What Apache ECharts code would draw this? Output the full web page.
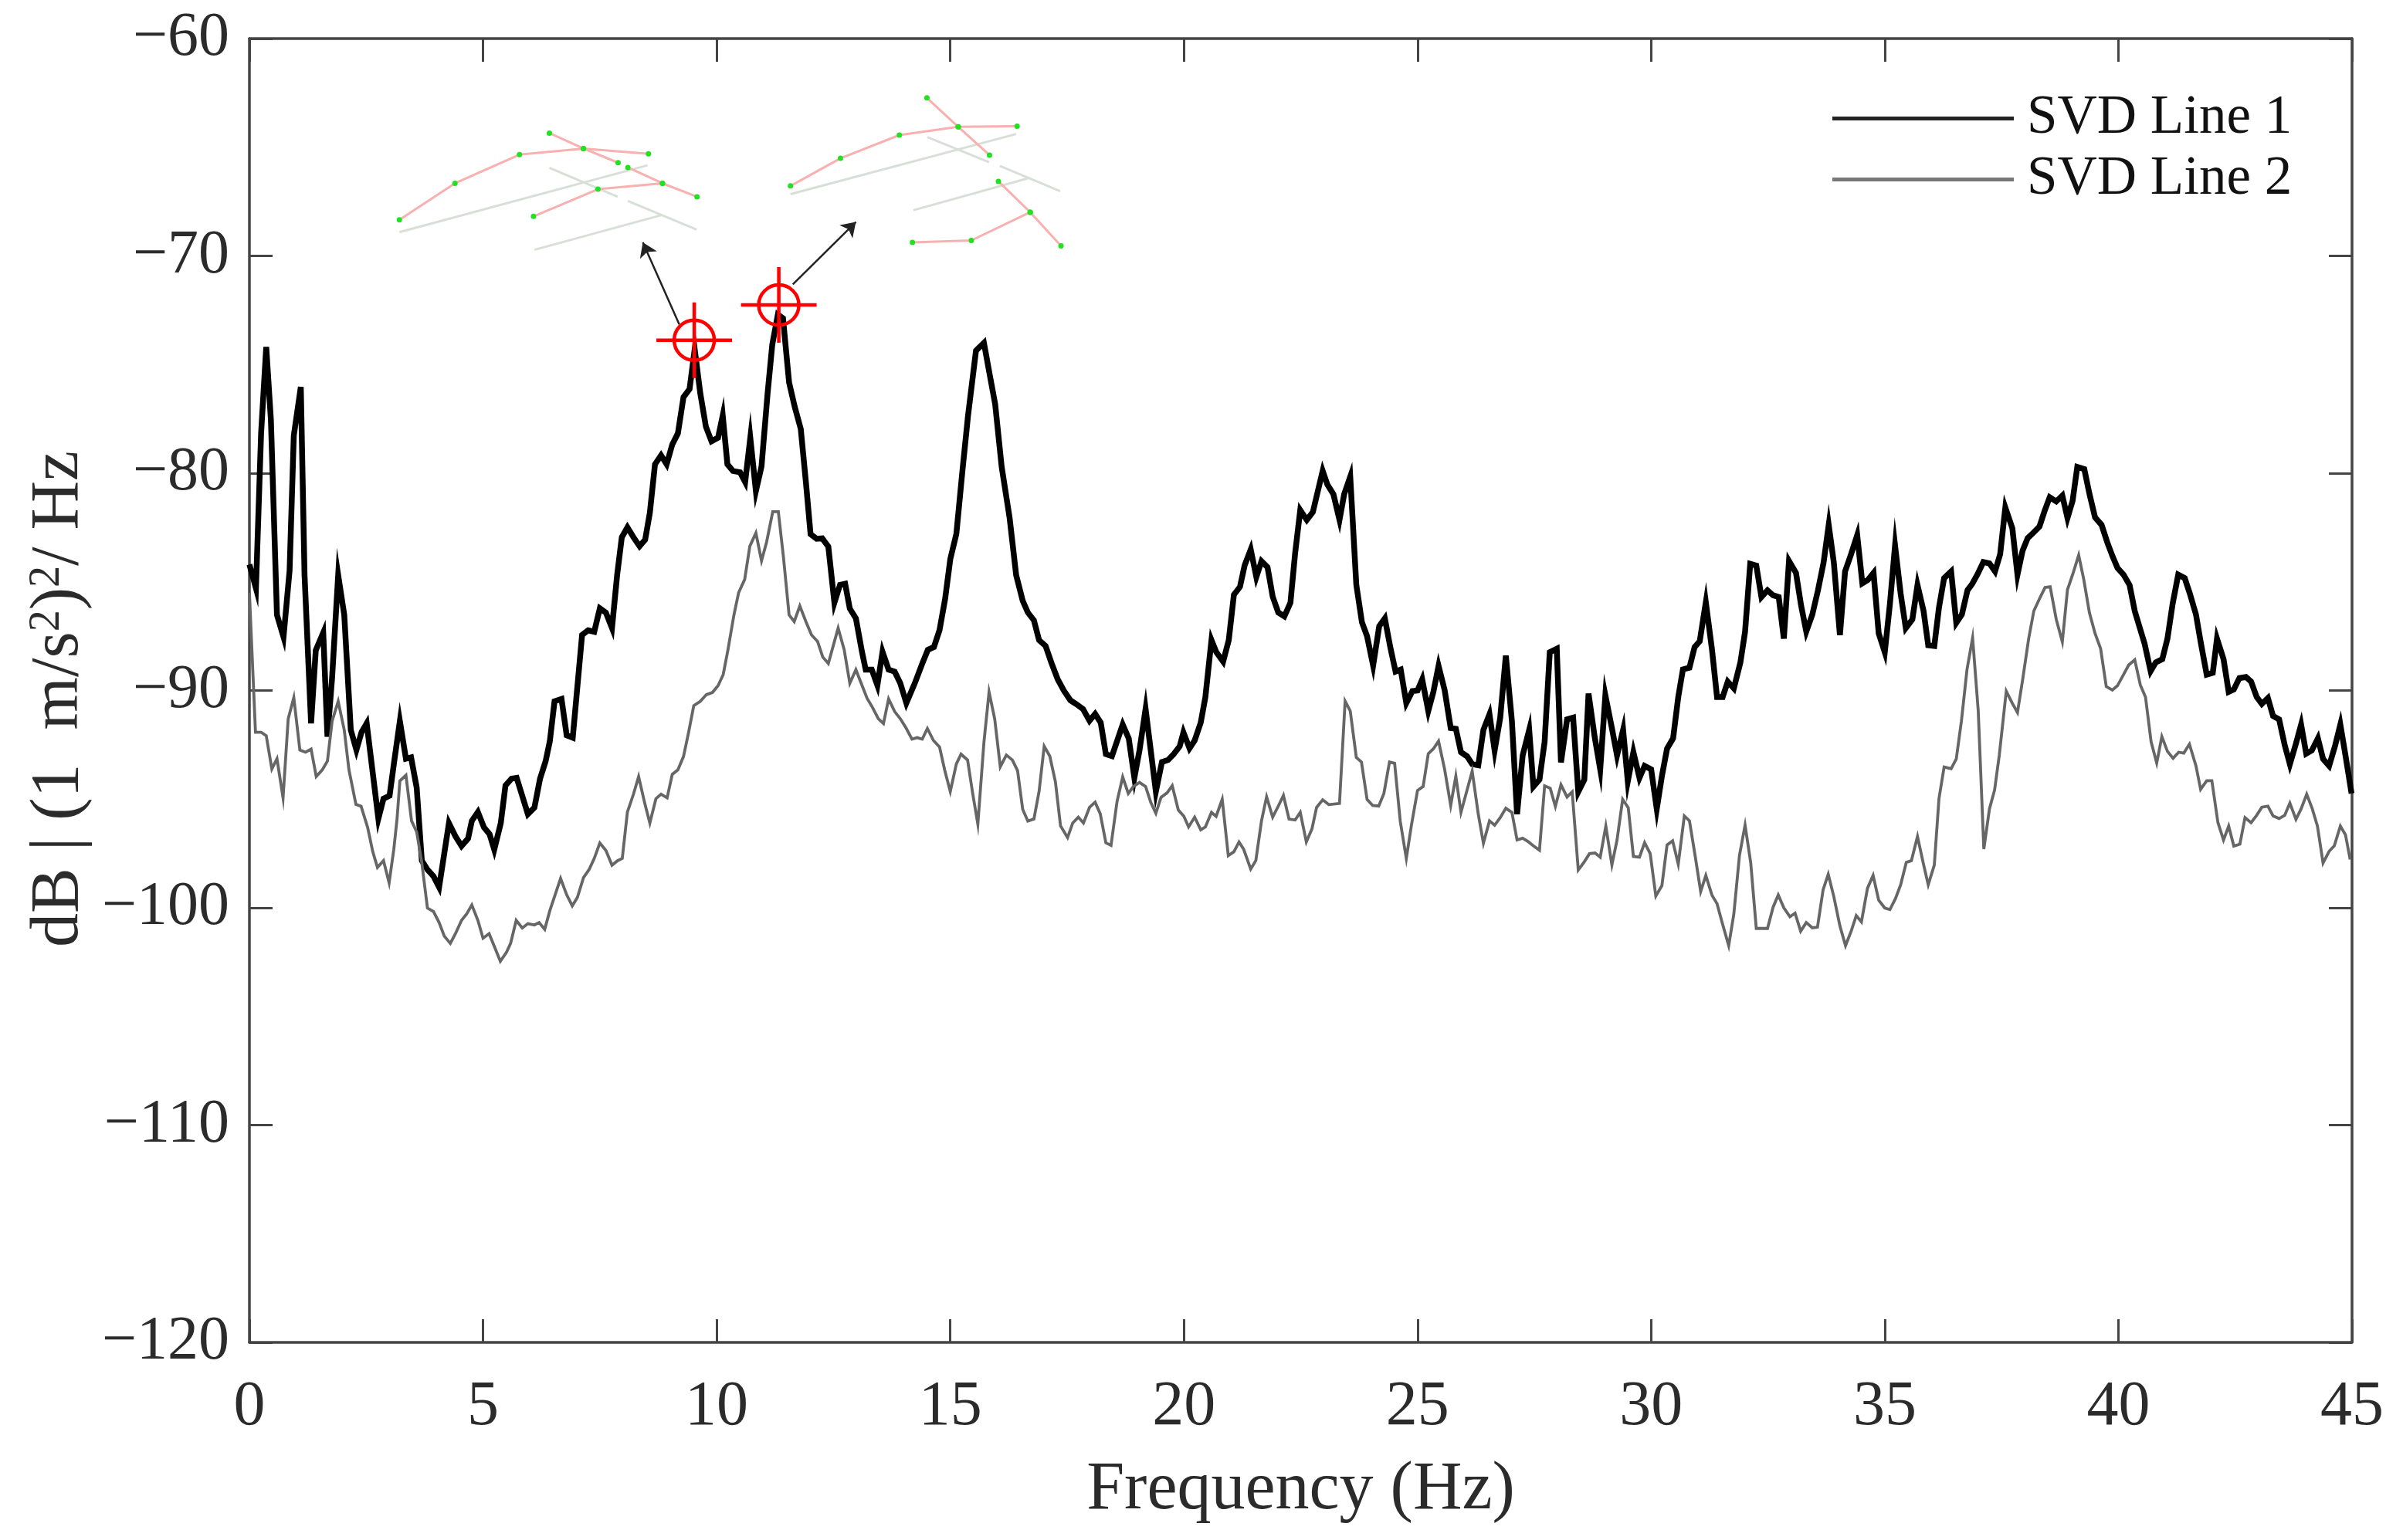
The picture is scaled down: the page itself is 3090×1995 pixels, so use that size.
<!DOCTYPE html>
<html>
<head>
<meta charset="utf-8">
<style>html,body{margin:0;padding:0;background:#fff}#c{width:3090px;height:1995px}</style>
<script src="https://cdn.jsdelivr.net/npm/echarts@6/dist/echarts.min.js"></script>
</head>
<body>
<div id="c"></div>
<script>
const line1Name = 'SVD Line 1';
const line2Name = 'SVD Line 2';
const xTitle = 'Frequency (Hz)';
// [Hz, dB]
const line1 = [[0,-84.2],[.14,-85.3],[.25,-78.17],[.36,-74.19],[.46,-77.55],[.59,-86.52],[.73,-87.54],[.86,-84.48],[.95,-78.27],[1.1,-76.03],[1.18,-84.69],[1.32,-91.51],[1.42,-88.15],[1.58,-87.34],[1.67,-92.13],[1.77,-89.4],[1.9,-84.69],[2.03,-86.52],[2.17,-91.82],[2.29,-92.74],[2.4,-91.92],[2.51,-91.51],[2.76,-95.9],[2.87,-94.98],[3,-94.84],[3.1,-93.25],[3.22,-91.41],[3.35,-93.14],[3.46,-93.08],[3.58,-94.47],[3.69,-97.83],[3.81,-98.24],[3.94,-98.55],[4.06,-99.05],[4.27,-96.1],[4.41,-96.71],[4.54,-97.16],[4.68,-96.81],[4.76,-96],[4.89,-95.59],[5.02,-96.3],[5.14,-96.61],[5.24,-97.32],[5.38,-96.1],[5.48,-94.37],[5.61,-94.06],[5.72,-94.02],[5.96,-95.69],[6.1,-95.39],[6.22,-94.06],[6.34,-93.25],[6.43,-92.33],[6.53,-90.5],[6.68,-90.39],[6.79,-92.06],[6.92,-92.17],[7.12,-87.44],[7.25,-87.23],[7.38,-87.3],[7.5,-86.22],[7.63,-86.42],[7.76,-87.13],[7.87,-84.69],[7.97,-82.95],[8.09,-82.49],[8.22,-82.95],[8.35,-83.36],[8.47,-83.06],[8.57,-81.83],[8.68,-79.59],[8.81,-79.18],[8.93,-79.59],[9.05,-78.68],[9.17,-78.17],[9.29,-76.5],[9.42,-76.13],[9.53,-74.3],[9.65,-76.33],[9.77,-77.86],[9.89,-78.53],[10.03,-78.37],[10.13,-77.35],[10.23,-79.59],[10.35,-79.9],[10.5,-79.96],[10.61,-80.41],[10.72,-78.37],[10.84,-80.82],[10.96,-79.69],[11.09,-76.33],[11.19,-74.09],[11.31,-72.7],[11.42,-72.87],[11.55,-75.82],[11.67,-76.94],[11.8,-77.96],[11.91,-80.41],[12.01,-82.81],[12.14,-83.02],[12.26,-83],[12.39,-83.38],[12.52,-85.96],[12.64,-85.14],[12.75,-85.09],[12.85,-86.23],[12.98,-86.68],[13.11,-88.22],[13.19,-89.04],[13.32,-89.04],[13.44,-89.76],[13.55,-88.22],[13.68,-89.04],[13.81,-89.13],[13.93,-89.67],[14.06,-90.58],[14.24,-89.67],[14.4,-88.76],[14.52,-88.13],[14.65,-88],[14.77,-87.22],[14.89,-85.78],[15,-83.96],[15.13,-82.79],[15.26,-79.89],[15.38,-77.35],[15.55,-74.36],[15.72,-74],[15.85,-75.54],[15.96,-76.81],[16.1,-79.71],[16.27,-82.06],[16.41,-84.69],[16.55,-85.87],[16.66,-86.41],[16.79,-86.77],[16.9,-87.68],[17.04,-87.95],[17.17,-88.76],[17.3,-89.49],[17.43,-90],[17.57,-90.45],[17.7,-90.63],[17.84,-90.85],[17.98,-91.39],[18.1,-91.08],[18.22,-91.48],[18.33,-92.93],[18.46,-93.02],[18.69,-91.57],[18.82,-92.21],[18.94,-94.02],[19.05,-92.75],[19.18,-90.85],[19.4,-94.65],[19.53,-93.29],[19.66,-93.2],[19.78,-92.93],[19.91,-92.57],[19.99,-91.93],[20.12,-92.66],[20.23,-92.3],[20.36,-91.48],[20.46,-90.3],[20.59,-87.68],[20.69,-88.22],[20.84,-88.67],[20.96,-87.68],[21.07,-85.59],[21.2,-85.23],[21.3,-84.24],[21.43,-83.51],[21.55,-84.78],[21.66,-84.05],[21.79,-84.33],[21.9,-85.68],[22.02,-86.41],[22.15,-86.59],[22.28,-85.96],[22.38,-83.69],[22.49,-81.7],[22.63,-82.15],[22.76,-81.79],[22.97,-79.89],[23.07,-80.52],[23.2,-80.97],[23.33,-82.15],[23.43,-80.97],[23.56,-80.16],[23.69,-85.14],[23.81,-86.86],[23.92,-87.5],[24.05,-88.85],[24.18,-87.04],[24.3,-86.68],[24.42,-88.04],[24.53,-89.13],[24.64,-89.04],[24.76,-90.58],[24.89,-90.03],[25,-90],[25.1,-89.49],[25.23,-90.94],[25.34,-90.06],[25.45,-88.87],[25.58,-89.98],[25.71,-91.73],[25.82,-91.76],[25.93,-92.84],[26.06,-93.03],[26.17,-93.39],[26.3,-93.44],[26.41,-91.81],[26.54,-91.09],[26.65,-92.76],[26.77,-91.25],[26.89,-88.4],[27.02,-91.41],[27.13,-95.69],[27.25,-92.99],[27.39,-91.81],[27.48,-94.42],[27.61,-94.1],[27.72,-92.36],[27.83,-88.24],[27.98,-88.08],[28.07,-93.31],[28.2,-91.33],[28.33,-91.25],[28.44,-94.66],[28.57,-94.1],[28.66,-90.14],[28.79,-92.12],[28.91,-93.63],[29.02,-90.22],[29.16,-91.73],[29.27,-92.99],[29.4,-91.81],[29.5,-94.18],[29.62,-92.84],[29.75,-94.02],[29.86,-93.47],[30,-93.63],[30.12,-95.45],[30.23,-93.94],[30.34,-92.68],[30.47,-92.2],[30.58,-90.3],[30.68,-89.03],[30.82,-88.95],[30.93,-88],[31.04,-87.73],[31.17,-85.94],[31.3,-88.08],[31.41,-90.3],[31.53,-90.3],[31.64,-89.59],[31.77,-89.9],[31.91,-88.71],[32.01,-87.29],[32.12,-84.17],[32.25,-84.25],[32.36,-85.7],[32.49,-85.39],[32.61,-85.62],[32.73,-85.7],[32.84,-87.61],[32.95,-84.04],[33.1,-84.59],[33.21,-86.1],[33.32,-87.29],[33.45,-86.5],[33.57,-85.39],[33.69,-84.12],[33.8,-82.38],[33.91,-84.12],[34.04,-87.45],[34.15,-84.52],[34.28,-83.72],[34.41,-82.85],[34.52,-85.07],[34.64,-84.91],[34.76,-84.59],[34.87,-87.37],[35,-88.24],[35.11,-86.02],[35.22,-83.33],[35.34,-85.55],[35.45,-87.13],[35.59,-86.73],[35.7,-85.15],[35.83,-86.34],[35.93,-87.92],[36.06,-87.95],[36.16,-86.18],[36.27,-84.83],[36.42,-84.52],[36.53,-86.89],[36.65,-86.5],[36.77,-85.39],[36.87,-85.1],[36.99,-84.63],[37.11,-84.09],[37.24,-84.15],[37.36,-84.52],[37.47,-83.72],[37.58,-81.58],[37.73,-82.53],[37.84,-84.67],[37.95,-83.56],[38.06,-82.98],[38.18,-82.74],[38.31,-82.46],[38.42,-81.74],[38.53,-81.11],[38.67,-81.3],[38.8,-81.03],[38.91,-82.06],[39.02,-81.27],[39.12,-79.71],[39.27,-79.81],[39.38,-80.95],[39.5,-82.03],[39.64,-82.38],[39.76,-83.17],[39.87,-83.8],[39.98,-84.36],[40.11,-84.67],[40.24,-85.15],[40.35,-86.34],[40.46,-87.13],[40.56,-87.84],[40.69,-89.11],[40.8,-88.71],[40.94,-88.56],[41.05,-87.61],[41.16,-86.02],[41.28,-84.67],[41.42,-84.83],[41.53,-85.55],[41.66,-86.5],[41.76,-87.76],[41.89,-89.27],[42.02,-89.19],[42.11,-87.61],[42.25,-88.56],[42.36,-90.06],[42.47,-89.95],[42.59,-89.43],[42.73,-89.38],[42.84,-89.59],[42.96,-90.3],[43.07,-90.62],[43.2,-90.35],[43.31,-91.17],[43.44,-91.33],[43.56,-92.52],[43.67,-93.39],[43.8,-92.44],[43.91,-91.57],[44.02,-92.91],[44.14,-92.76],[44.27,-92.2],[44.38,-93.15],[44.51,-93.47],[44.64,-92.52],[44.75,-91.57],[44.86,-92.99],[44.99,-94.74]];
const line2 = [[0,-85.5],[.13,-91.92],[.25,-91.92],[.36,-92.08],[.48,-93.61],[.59,-93.14],[.72,-94.94],[.83,-91.31],[.95,-90.33],[1.08,-92.74],[1.2,-92.84],[1.32,-92.7],[1.43,-93.96],[1.56,-93.65],[1.67,-93.25],[1.77,-91.41],[1.9,-90.5],[2.03,-91.82],[2.13,-93.65],[2.28,-95.24],[2.39,-95.33],[2.53,-96.3],[2.64,-97.42],[2.74,-98.14],[2.87,-97.83],[2.99,-98.85],[3.09,-97.32],[3.16,-95.9],[3.22,-94.16],[3.35,-93.9],[3.47,-96],[3.58,-96.51],[3.69,-97.93],[3.81,-100.01],[3.94,-100.17],[4.06,-100.68],[4.17,-101.3],[4.3,-101.64],[4.41,-101.19],[4.54,-100.58],[4.65,-100.28],[4.76,-99.87],[4.89,-100.58],[5,-101.4],[5.13,-101.19],[5.24,-101.77],[5.37,-102.46],[5.5,-102.05],[5.59,-101.64],[5.71,-100.58],[5.84,-100.93],[5.96,-100.73],[6.1,-100.79],[6.2,-100.68],[6.32,-100.99],[6.43,-100.13],[6.66,-98.65],[6.79,-99.4],[6.91,-99.91],[7.02,-99.52],[7.15,-98.61],[7.27,-98.24],[7.38,-97.73],[7.5,-97.02],[7.63,-97.36],[7.76,-98.04],[7.88,-97.83],[7.98,-97.73],[8.09,-95.59],[8.22,-94.77],[8.33,-93.96],[8.46,-95.18],[8.57,-96.1],[8.7,-94.98],[8.81,-94.77],[8.94,-94.94],[9.05,-93.86],[9.17,-93.65],[9.29,-93.04],[9.4,-91.92],[9.51,-90.7],[9.65,-90.5],[9.78,-90.19],[9.91,-90.09],[10.03,-89.78],[10.14,-89.27],[10.24,-88.15],[10.37,-86.52],[10.47,-85.5],[10.6,-84.89],[10.71,-83.36],[10.84,-82.75],[10.96,-84.03],[11.07,-83.16],[11.2,-81.77],[11.32,-81.77],[11.43,-83.87],[11.55,-86.52],[11.66,-86.83],[11.78,-86.11],[11.91,-86.83],[12.03,-87.44],[12.16,-87.74],[12.27,-88.46],[12.39,-88.76],[12.6,-87.13],[12.73,-88.13],[12.85,-89.67],[12.98,-89.04],[13.11,-89.76],[13.22,-90.36],[13.33,-90.76],[13.46,-91.3],[13.57,-91.52],[13.68,-90.39],[13.81,-90.97],[13.93,-91.3],[14.06,-91.75],[14.18,-92.24],[14.29,-92.17],[14.4,-92.24],[14.51,-91.75],[14.64,-92.3],[14.77,-92.6],[14.88,-93.66],[15,-94.65],[15.13,-93.38],[15.23,-92.93],[15.37,-93.2],[15.48,-94.74],[15.59,-96.15],[15.72,-92.39],[15.83,-90.07],[15.95,-91.3],[16.07,-93.51],[16.2,-92.97],[16.33,-93.2],[16.44,-93.69],[16.55,-95.47],[16.66,-96.01],[16.79,-95.92],[16.9,-94.65],[17.01,-92.57],[17.13,-93.02],[17.25,-94.2],[17.36,-96.23],[17.51,-96.77],[17.62,-96.1],[17.74,-95.83],[17.85,-96.1],[17.98,-95.38],[18.1,-95.14],[18.21,-95.68],[18.33,-97.01],[18.44,-97.13],[18.57,-95.1],[18.69,-93.98],[18.81,-94.74],[18.92,-94.42],[19.05,-94.23],[19.18,-94.42],[19.29,-95.14],[19.4,-95.65],[19.51,-94.92],[19.64,-94.71],[19.75,-94.38],[19.88,-95.5],[20,-95.79],[20.1,-96.28],[20.23,-95.83],[20.36,-96.41],[20.46,-96.28],[20.59,-95.61],[20.69,-95.79],[20.82,-95.01],[20.95,-97.6],[21.07,-97.42],[21.18,-96.97],[21.28,-97.31],[21.43,-98.22],[21.54,-97.82],[21.66,-96.01],[21.77,-94.89],[21.9,-95.83],[22.02,-95.32],[22.13,-94.83],[22.25,-95.92],[22.38,-95.96],[22.49,-95.61],[22.62,-96.97],[22.74,-96.37],[22.84,-95.38],[22.97,-95.03],[23.1,-95.25],[23.33,-95.2],[23.45,-90.49],[23.56,-90.94],[23.69,-93.08],[23.8,-93.29],[23.92,-95.01],[24.04,-95.29],[24.17,-95.32],[24.28,-94.74],[24.4,-93.29],[24.51,-93.35],[24.63,-96.01],[24.76,-97.73],[24.87,-96.19],[25,-94.6],[25.12,-94.42],[25.23,-92.91],[25.34,-92.68],[25.45,-92.33],[25.58,-93.63],[25.71,-95.29],[25.82,-93.94],[25.93,-95.61],[26.06,-94.58],[26.17,-93.71],[26.3,-95.69],[26.41,-97.03],[26.54,-96],[26.65,-96.2],[26.77,-95.85],[26.89,-95.42],[27.02,-95.61],[27.13,-96.88],[27.25,-96.8],[27.37,-96.96],[27.48,-97.15],[27.61,-97.35],[27.72,-94.39],[27.84,-94.5],[27.95,-95.34],[28.07,-94.34],[28.2,-94.9],[28.31,-94.66],[28.44,-98.26],[28.57,-97.88],[28.68,-97.51],[28.8,-97.48],[28.91,-97.67],[29.03,-96.24],[29.16,-98.03],[29.27,-96.88],[29.39,-95.01],[29.51,-95.4],[29.62,-97.64],[29.75,-97.67],[29.86,-97],[29.98,-97.51],[30.1,-99.46],[30.23,-98.98],[30.34,-97.11],[30.46,-96.92],[30.58,-97.99],[30.71,-95.77],[30.82,-96],[30.94,-97.59],[31.06,-99.25],[31.17,-98.51],[31.3,-99.41],[31.41,-99.81],[31.53,-100.76],[31.66,-101.74],[31.77,-100.28],[31.89,-97.59],[32.01,-96.2],[32.13,-97.91],[32.25,-100.95],[32.49,-100.95],[32.61,-99.97],[32.72,-99.41],[32.84,-100],[32.97,-100.41],[33.08,-100.25],[33.2,-101.08],[33.32,-100.68],[33.45,-100.92],[33.56,-100.89],[33.68,-99.17],[33.79,-98.46],[33.91,-99.49],[34.04,-100.84],[34.16,-101.74],[34.28,-101.08],[34.39,-100.36],[34.5,-100.65],[34.63,-99.1],[34.75,-98.51],[34.87,-99.65],[35,-100.01],[35.11,-100.08],[35.23,-99.57],[35.34,-98.94],[35.46,-97.91],[35.57,-97.83],[35.7,-96.72],[35.82,-97.91],[35.93,-98.94],[36.06,-98.03],[36.16,-94.97],[36.27,-93.52],[36.42,-93.6],[36.53,-93.15],[36.64,-91.41],[36.76,-89.03],[36.88,-87.57],[37,-90.93],[37.12,-97.3],[37.24,-95.45],[37.35,-94.58],[37.45,-92.99],[37.6,-90.03],[37.73,-90.59],[37.84,-91.01],[37.95,-89.51],[38.08,-87.61],[38.19,-86.34],[38.31,-85.78],[38.43,-85.26],[38.54,-85.23],[38.67,-86.73],[38.8,-87.76],[38.91,-85.36],[39.02,-84.67],[39.15,-83.77],[39.26,-84.91],[39.38,-86.42],[39.5,-87.37],[39.62,-88.08],[39.74,-89.82],[39.87,-89.98],[39.98,-89.78],[40.11,-89.27],[40.22,-88.83],[40.35,-88.59],[40.47,-89.75],[40.58,-90.3],[40.7,-92.36],[40.82,-93.34],[40.93,-92.12],[41.05,-92.8],[41.17,-93.12],[41.29,-92.84],[41.4,-92.88],[41.52,-92.47],[41.66,-93.47],[41.76,-94.55],[41.89,-94.15],[42,-94.15],[42.13,-96.08],[42.25,-96.88],[42.36,-96.24],[42.47,-97.16],[42.6,-97.07],[42.71,-95.85],[42.84,-96.08],[42.96,-95.74],[43.07,-95.37],[43.2,-95.32],[43.31,-95.77],[43.44,-95.89],[43.56,-95.74],[43.67,-95.18],[43.8,-95.93],[43.91,-95.45],[44.03,-94.77],[44.15,-95.45],[44.26,-96.24],[44.38,-97.94],[44.51,-97.4],[44.62,-97.15],[44.75,-96.24],[44.86,-96.64],[44.96,-97.78]];
const peaks = [[9.52,-73.88],[11.33,-72.26]];
const arrows = [
  [[9.2,-73.15],[8.42,-69.38]],
  [[11.63,-71.31],[12.98,-68.44]]
];
const shapeRed = [
  [[3.21,-68.34],[4.4,-66.66],[5.78,-65.34],[7.15,-65.06],[8.54,-65.3]],
  [[6.08,-68.18],[7.46,-66.93],[8.84,-66.66]],
  [[6.42,-64.35],[7.15,-65.06],[7.89,-65.71]],
  [[8.1,-65.93],[8.84,-66.66],[9.58,-67.28]],
  [[11.58,-66.78],[12.65,-65.51],[13.91,-64.44],[15.17,-64.06],[16.43,-64.03]],
  [[14.5,-62.73],[15.17,-64.06],[15.84,-65.36]],
  [[16.03,-66.57],[16.71,-67.99],[17.37,-69.54]],
  [[14.19,-69.38],[15.45,-69.29],[16.71,-67.99]]
];
const shapeGrey = [
  [[3.21,-68.91],[8.52,-65.83]],
  [[6.1,-69.72],[8.82,-68.12]],
  [[6.42,-65.95],[7.88,-67.28]],
  [[8.1,-67.47],[9.57,-68.79]],
  [[11.58,-67.16],[16.41,-64.39]],
  [[14.21,-67.9],[16.66,-66.43]],
  [[14.51,-64.53],[15.83,-65.69]],
  [[16.06,-65.86],[17.35,-67.02]]
];

const serif = '"Liberation Serif","Times New Roman",serif';
const frame = '#444444';
const textCol = '#2b2b2b';
const xAxisBase = {
  type:'value', min:0, max:45, interval:5, splitLine:{show:false},
  axisLine:{show:true,onZero:false,lineStyle:{color:frame,width:3.5}},
  axisTick:{show:true,inside:true,length:30,lineStyle:{color:frame,width:3}}
};
const yAxisBase = {
  type:'value', min:-120, max:-60, interval:10, splitLine:{show:false},
  axisLine:{show:true,onZero:false,lineStyle:{color:frame,width:3.5}},
  axisTick:{show:true,inside:true,length:30,lineStyle:{color:frame,width:3}}
};
const series = [];
shapeGrey.forEach(p=>series.push({type:'line',data:p,showSymbol:false,silent:true,z:3,
  lineStyle:{color:'#d8dfd8',width:3}}));
shapeRed.forEach(p=>series.push({type:'line',data:p,symbol:'circle',symbolSize:7,showSymbol:true,showAllSymbols:true,silent:true,z:4,
  lineStyle:{color:'#f9b0b0',width:3},itemStyle:{color:'#22e022'}}));
series.push({name:line1Name,type:'line',data:line1,showSymbol:false,z:5,itemStyle:{color:'#000000'},
  lineStyle:{color:'#000000',width:7.5,join:'miter',miterLimit:10}});
series.push({name:line2Name,type:'line',data:line2,showSymbol:false,z:6,itemStyle:{color:'#666666'},
  lineStyle:{color:'#666666',width:3.8,join:'miter',miterLimit:10}});
series.push({type:'scatter',data:peaks,z:8,silent:true,symbolSize:98,
  symbol:'path://M0 -49 L0 49 M-49 0 L49 0 M26 0 A26 26 0 1 1 -26 0 A26 26 0 1 1 26 0 Z',
  itemStyle:{color:'none',borderColor:'#ff0000',borderWidth:4.5,opacity:1}});
series.push({type:'lines',coordinateSystem:'cartesian2d',z:7,silent:true,symbol:['none','arrow'],symbolSize:18,
  data:arrows.map(a=>({coords:a})),lineStyle:{color:'#222222',width:2.5,opacity:1,curveness:0}});

const chart = echarts.init(document.getElementById('c'),null,{renderer:'canvas',width:3090,height:1995});
chart.setOption({
  animation:false,
  backgroundColor:'#ffffff',
  grid:{left:323,right:43,top:50,bottom:256,containLabel:false},
  legend:{
    data:[
      {name:line1Name,itemStyle:{color:'#222222'}},
      {name:line2Name,itemStyle:{color:'#777777'}}
    ],
    orient:'vertical',left:2368,top:113,itemWidth:235,itemHeight:5,itemGap:8,align:'left',
    icon:'rect',selectedMode:false,
    textStyle:{fontFamily:serif,fontSize:71,lineHeight:70,color:'#111111',padding:[0,0,0,12]}
  },
  xAxis:[
    Object.assign({},xAxisBase,{position:'bottom',
      name:xTitle,nameLocation:'middle',nameGap:148,
      nameTextStyle:{fontFamily:serif,fontSize:88,color:textCol},
      axisLabel:{fontFamily:serif,fontSize:82,color:textCol,margin:43}}),
    Object.assign({},xAxisBase,{position:'top',axisLabel:{show:false}})
  ],
  yAxis:[
    Object.assign({},yAxisBase,{position:'left',
      name:'{b|dB | (1  m/s}{s|2}{b|)}{s|2}{b|/ Hz\u00a0}',nameLocation:'middle',nameGap:202,nameRotate:90,
      nameTextStyle:{fontFamily:serif,fontSize:88,color:textCol,
        rich:{b:{fontFamily:serif,fontSize:88,color:textCol},s:{fontFamily:serif,fontSize:56,color:textCol,verticalAlign:'top'}}},
      axisLabel:{fontFamily:serif,fontSize:80,color:textCol,margin:26,padding:[16,0,0,0],
        formatter:v=>String(v).replace('-','\u2212')}}),
    Object.assign({},yAxisBase,{position:'right',axisLabel:{show:false}})
  ],
  series:series
});
</script>
</body>
</html>
